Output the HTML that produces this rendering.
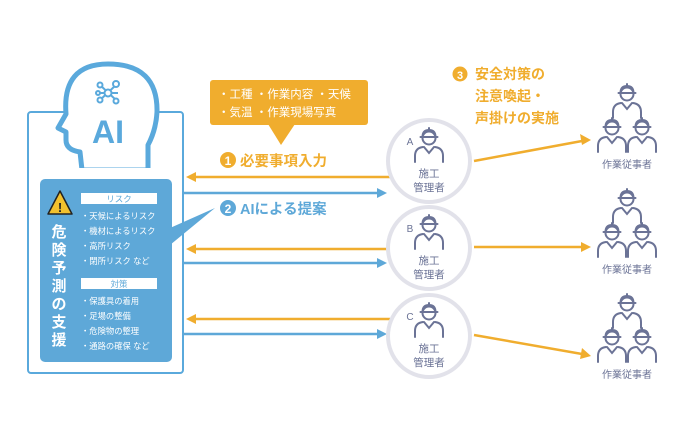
<!DOCTYPE html>
<html><head><meta charset="utf-8"><style>
body{margin:0;background:#fff;}
svg{display:block;font-family:"Liberation Sans","Noto Sans CJK JP",sans-serif;}
</style></head><body>
<svg width="685" height="422" viewBox="0 0 685 422">
<defs>
<g id="worker" fill="none" stroke="#6b7396" stroke-width="2" stroke-linecap="round">
<circle cx="0" cy="0" r="6.5"/><path d="M-8.5,-1 H8.5 M-6.5,-1 Q-6.5,-8 0,-8 Q6.5,-8 6.5,-1 M0,-8 V-10"/>
<path d="M-14,24 V18 Q-14,10 -6,9 M14,24 V18 Q14,10 6,9 M-5,9 L0,15 L5,9"/>
</g>
<g id="team">
<use href="#worker" x="0" y="0"/><use href="#worker" x="-15" y="34"/><use href="#worker" x="15" y="34"/>
</g>
</defs>
<rect x="28" y="112" width="155" height="261" rx="3" fill="#fff" stroke="#5aa9dc" stroke-width="2"/>
<path d="M82,170 L80,152 Q66,150 66,140 L66,132 L58,128 L66,114 Q62,64 108,64 Q158,64 157,112 Q156,130 148,145 L148,170 Z" fill="#fff" stroke="#5aa9dc" stroke-width="5" stroke-linejoin="round"/>
<rect x="29" y="168" width="153" height="10" fill="#fff"/>
<g stroke="#5aa9dc" stroke-width="2" fill="#fff">
<line x1="100" y1="85" x2="116" y2="100"/><line x1="116" y1="85" x2="100" y2="100"/><line x1="98" y1="93" x2="118" y2="93"/>
<circle cx="108" cy="93" r="3.5"/><circle cx="100" cy="85" r="2.5"/><circle cx="116" cy="84" r="3"/><circle cx="100" cy="100" r="2.5"/><circle cx="116" cy="101" r="2.5"/><circle cx="98" cy="93" r="2"/>
</g>
<text x="108" y="143" text-anchor="middle" font-size="32" font-weight="bold" fill="#5aa9dc">AI</text>
<rect x="40" y="179" width="132" height="183" rx="5" fill="#5ea8d8"/>
<path d="M170,228 L215,208 L170,245 Z" fill="#5ea8d8"/>
<path d="M60,191 L48,214 H72 Z" fill="#f2c12e" stroke="#222" stroke-width="1.5" stroke-linejoin="round"/>
<text x="60" y="212" text-anchor="middle" font-size="13" font-weight="bold" fill="#222">!</text>
<g font-size="15" fill="#fff" text-anchor="middle" font-weight="bold">
<text x="59" y="237">危</text><text x="59" y="255">険</text><text x="59" y="273">予</text><text x="59" y="291">測</text><text x="59" y="309">の</text><text x="59" y="327">支</text><text x="59" y="345">援</text>
</g>
<rect x="81" y="193" width="76" height="11" fill="#fff"/>
<text x="119" y="202" text-anchor="middle" font-size="8.5" fill="#5ea8d8">リスク</text>
<g font-size="8.3" fill="#fff">
<text x="81" y="219">・天候によるリスク</text><text x="81" y="234">・機材によるリスク</text><text x="81" y="249">・高所リスク</text><text x="81" y="264">・閉所リスク など</text>
</g>
<rect x="81" y="278" width="76" height="11" fill="#fff"/>
<text x="119" y="287" text-anchor="middle" font-size="8.5" fill="#5ea8d8">対策</text>
<g font-size="8.3" fill="#fff">
<text x="81" y="304">・保護具の着用</text><text x="81" y="319">・足場の整備</text><text x="81" y="334">・危険物の整理</text><text x="81" y="349">・通路の確保 など</text>
</g>
<rect x="210" y="80" width="158" height="45" rx="3" fill="#f0ad2e"/>
<path d="M268,124 L281,145 L295,124 Z" fill="#f0ad2e"/>
<text x="218" y="98" font-size="11.5" fill="#fff">・工種 ・作業内容 ・天候</text>
<text x="218" y="116" font-size="11.5" fill="#fff">・気温 ・作業現場写真</text>
<circle cx="228" cy="160" r="8" fill="#f0ad2e"/><text x="228" y="165" text-anchor="middle" font-size="12" font-weight="bold" fill="#fff">1</text>
<text x="240" y="166" font-size="14.5" font-weight="bold" fill="#f0ad2e">必要事項入力</text>
<circle cx="228" cy="208" r="8" fill="#5ea8d8"/><text x="228" y="213" text-anchor="middle" font-size="12" font-weight="bold" fill="#fff">2</text>
<text x="240" y="214" font-size="14.5" font-weight="bold" fill="#5ea8d8">AIによる提案</text>
<circle cx="460" cy="74" r="7.5" fill="#f0ad2e"/><text x="460" y="79" text-anchor="middle" font-size="11" font-weight="bold" fill="#fff">3</text>
<g font-size="14" font-weight="bold" fill="#f0ad2e">
<text x="475" y="79">安全対策の</text><text x="475" y="101">注意喚起・</text><text x="475" y="123">声掛けの実施</text>
</g>
<g stroke-width="2.5" fill="none">
<line x1="390" y1="177" x2="195" y2="177" stroke="#f0ad2e"/>
<line x1="183" y1="193" x2="378" y2="193" stroke="#5ea8d8"/>
<line x1="390" y1="249" x2="195" y2="249" stroke="#f0ad2e"/>
<line x1="183" y1="263" x2="378" y2="263" stroke="#5ea8d8"/>
<line x1="390" y1="319" x2="195" y2="319" stroke="#f0ad2e"/>
<line x1="183" y1="334" x2="378" y2="334" stroke="#5ea8d8"/>
<line x1="474" y1="161" x2="582" y2="141" stroke="#f0ad2e"/>
<line x1="474" y1="247" x2="582" y2="247" stroke="#f0ad2e"/>
<line x1="474" y1="335" x2="582" y2="354" stroke="#f0ad2e"/>
</g>
<g fill="#f0ad2e">
<path d="M186,177 l10,-5 v10 z"/><path d="M186,249 l10,-5 v10 z"/><path d="M186,319 l10,-5 v10 z"/>
<path d="M591,140 l-11,-6 l2,11 z"/><path d="M591,247 l-10,-5 v10 z"/><path d="M591,356 l-9,-8 l-2,11 z"/>
</g>
<g fill="#5ea8d8">
<path d="M387,193 l-10,-5 v10 z"/><path d="M387,263 l-10,-5 v10 z"/><path d="M387,334 l-10,-5 v10 z"/>
</g>
<g fill="#fff" stroke="#e2e2ea" stroke-width="4">
<circle cx="429" cy="161" r="41"/><circle cx="429" cy="248" r="41"/><circle cx="429" cy="336" r="41"/>
</g>
<g fill="#6b7396" font-size="10.5" text-anchor="middle">
<text x="410" y="145" font-size="10">A</text><text x="429" y="177">施工</text><text x="429" y="191">管理者</text>
<text x="410" y="232" font-size="10">B</text><text x="429" y="264">施工</text><text x="429" y="278">管理者</text>
<text x="410" y="320" font-size="10">C</text><text x="429" y="352">施工</text><text x="429" y="366">管理者</text>
</g>
<use href="#worker" x="429" y="138"/><use href="#worker" x="429" y="225"/><use href="#worker" x="429" y="313"/>
<use href="#team" x="627" y="94"/><use href="#team" x="627" y="199"/><use href="#team" x="627" y="304"/>
<g fill="#6b7396" font-size="10" text-anchor="middle">
<text x="627" y="168">作業従事者</text><text x="627" y="273">作業従事者</text><text x="627" y="378">作業従事者</text>
</g>
</svg>
</body></html>
